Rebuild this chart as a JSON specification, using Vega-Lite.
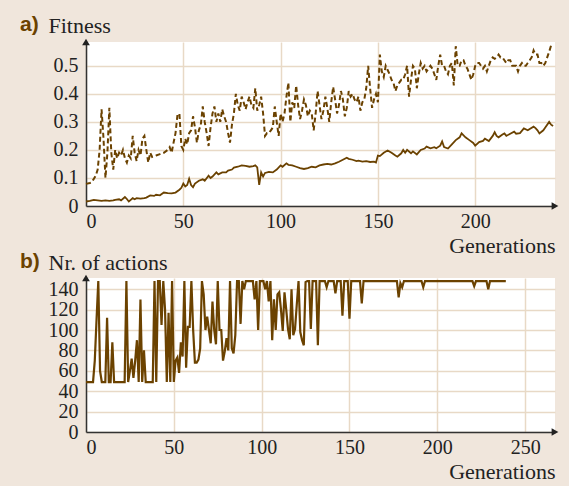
{
  "$schema": "https://vega.github.io/schema/vega-lite/v6.json",
  "background": "#f0e6dc",
  "padding": {"left": 20, "top": 14, "right": 10, "bottom": 4},
  "spacing": 72,
  "bounds": "flush",
  "datasets": {
    "best": [
      {"g":0,"v":0.079},{"g":2,"v":0.082},{"g":3,"v":0.085},{"g":5,"v":0.108},{"g":6,"v":0.13},{"g":7,"v":0.2},{"g":8,"v":0.345},{"g":9,"v":0.24},{"g":10,"v":0.1},{"g":11,"v":0.19},{"g":12,"v":0.35},{"g":13,"v":0.19},{"g":14,"v":0.13},{"g":15,"v":0.2},{"g":16,"v":0.17},{"g":17,"v":0.19},{"g":18,"v":0.18},{"g":19,"v":0.2},{"g":20,"v":0.17},{"g":21,"v":0.155},{"g":22,"v":0.18},{"g":23,"v":0.17},{"g":24,"v":0.25},{"g":25,"v":0.19},{"g":26,"v":0.16},{"g":27,"v":0.2},{"g":28,"v":0.18},{"g":29,"v":0.24},{"g":30,"v":0.25},{"g":31,"v":0.2},{"g":32,"v":0.155},{"g":33,"v":0.19},{"g":34,"v":0.175},{"g":36,"v":0.18},{"g":38,"v":0.185},{"g":40,"v":0.19},{"g":42,"v":0.2},{"g":43,"v":0.21},{"g":44,"v":0.19},{"g":45,"v":0.226},{"g":46,"v":0.26},{"g":47,"v":0.325},{"g":48,"v":0.33},{"g":49,"v":0.214},{"g":50,"v":0.2},{"g":51,"v":0.24},{"g":52,"v":0.22},{"g":53,"v":0.26},{"g":54,"v":0.27},{"g":55,"v":0.32},{"g":56,"v":0.28},{"g":57,"v":0.226},{"g":58,"v":0.27},{"g":59,"v":0.29},{"g":60,"v":0.355},{"g":61,"v":0.3},{"g":62,"v":0.26},{"g":63,"v":0.214},{"g":64,"v":0.28},{"g":65,"v":0.33},{"g":66,"v":0.355},{"g":67,"v":0.3},{"g":68,"v":0.33},{"g":69,"v":0.3},{"g":70,"v":0.345},{"g":71,"v":0.32},{"g":72,"v":0.3},{"g":73,"v":0.26},{"g":74,"v":0.226},{"g":75,"v":0.29},{"g":76,"v":0.33},{"g":77,"v":0.4},{"g":78,"v":0.36},{"g":79,"v":0.34},{"g":80,"v":0.39},{"g":81,"v":0.37},{"g":82,"v":0.345},{"g":83,"v":0.37},{"g":84,"v":0.39},{"g":85,"v":0.36},{"g":86,"v":0.35},{"g":87,"v":0.42},{"g":88,"v":0.34},{"g":89,"v":0.36},{"g":90,"v":0.39},{"g":91,"v":0.33},{"g":92,"v":0.25},{"g":93,"v":0.26},{"g":94,"v":0.26},{"g":95,"v":0.27},{"g":96,"v":0.28},{"g":97,"v":0.355},{"g":98,"v":0.3},{"g":99,"v":0.25},{"g":100,"v":0.33},{"g":101,"v":0.3},{"g":102,"v":0.33},{"g":103,"v":0.39},{"g":104,"v":0.44},{"g":105,"v":0.3},{"g":106,"v":0.37},{"g":107,"v":0.35},{"g":108,"v":0.43},{"g":109,"v":0.36},{"g":110,"v":0.31},{"g":111,"v":0.34},{"g":112,"v":0.38},{"g":113,"v":0.36},{"g":114,"v":0.32},{"g":115,"v":0.34},{"g":116,"v":0.33},{"g":117,"v":0.27},{"g":118,"v":0.33},{"g":119,"v":0.41},{"g":120,"v":0.36},{"g":121,"v":0.31},{"g":122,"v":0.34},{"g":123,"v":0.39},{"g":124,"v":0.35},{"g":125,"v":0.3},{"g":126,"v":0.37},{"g":127,"v":0.425},{"g":128,"v":0.38},{"g":129,"v":0.33},{"g":130,"v":0.36},{"g":131,"v":0.41},{"g":132,"v":0.38},{"g":133,"v":0.32},{"g":134,"v":0.35},{"g":135,"v":0.41},{"g":136,"v":0.39},{"g":137,"v":0.4},{"g":138,"v":0.38},{"g":139,"v":0.37},{"g":140,"v":0.39},{"g":141,"v":0.34},{"g":142,"v":0.37},{"g":143,"v":0.38},{"g":144,"v":0.42},{"g":145,"v":0.5},{"g":146,"v":0.42},{"g":147,"v":0.35},{"g":148,"v":0.38},{"g":149,"v":0.4},{"g":150,"v":0.37},{"g":151,"v":0.54},{"g":152,"v":0.48},{"g":153,"v":0.46},{"g":154,"v":0.5},{"g":155,"v":0.485},{"g":156,"v":0.47},{"g":157,"v":0.45},{"g":158,"v":0.44},{"g":159,"v":0.41},{"g":160,"v":0.43},{"g":161,"v":0.44},{"g":162,"v":0.45},{"g":163,"v":0.45},{"g":164,"v":0.47},{"g":165,"v":0.5},{"g":166,"v":0.39},{"g":167,"v":0.45},{"g":168,"v":0.5},{"g":169,"v":0.49},{"g":170,"v":0.42},{"g":171,"v":0.47},{"g":172,"v":0.51},{"g":173,"v":0.49},{"g":174,"v":0.5},{"g":175,"v":0.48},{"g":176,"v":0.49},{"g":177,"v":0.5},{"g":178,"v":0.49},{"g":179,"v":0.47},{"g":180,"v":0.45},{"g":181,"v":0.5},{"g":182,"v":0.54},{"g":183,"v":0.5},{"g":184,"v":0.5},{"g":185,"v":0.48},{"g":186,"v":0.47},{"g":187,"v":0.5},{"g":188,"v":0.51},{"g":189,"v":0.43},{"g":190,"v":0.57},{"g":191,"v":0.5},{"g":192,"v":0.5},{"g":193,"v":0.52},{"g":194,"v":0.52},{"g":195,"v":0.5},{"g":196,"v":0.49},{"g":197,"v":0.47},{"g":198,"v":0.45},{"g":199,"v":0.47},{"g":200,"v":0.5},{"g":201,"v":0.51},{"g":202,"v":0.51},{"g":203,"v":0.5},{"g":204,"v":0.49},{"g":205,"v":0.5},{"g":206,"v":0.48},{"g":207,"v":0.5},{"g":208,"v":0.52},{"g":209,"v":0.53},{"g":210,"v":0.525},{"g":211,"v":0.53},{"g":212,"v":0.54},{"g":213,"v":0.53},{"g":214,"v":0.53},{"g":215,"v":0.52},{"g":216,"v":0.51},{"g":217,"v":0.52},{"g":218,"v":0.52},{"g":219,"v":0.5},{"g":220,"v":0.5},{"g":221,"v":0.5},{"g":222,"v":0.48},{"g":223,"v":0.5},{"g":224,"v":0.51},{"g":225,"v":0.5},{"g":226,"v":0.5},{"g":227,"v":0.51},{"g":228,"v":0.52},{"g":229,"v":0.53},{"g":230,"v":0.555},{"g":231,"v":0.54},{"g":232,"v":0.54},{"g":233,"v":0.51},{"g":234,"v":0.51},{"g":235,"v":0.5},{"g":236,"v":0.51},{"g":237,"v":0.53},{"g":238,"v":0.55},{"g":239,"v":0.573}
    ],
    "mean": [
      {"g":0,"v":0.016},{"g":2,"v":0.018},{"g":4,"v":0.022},{"g":6,"v":0.02},{"g":8,"v":0.018},{"g":10,"v":0.02},{"g":12,"v":0.018},{"g":14,"v":0.02},{"g":15,"v":0.022},{"g":17,"v":0.024},{"g":18,"v":0.02},{"g":20,"v":0.032},{"g":21,"v":0.025},{"g":22,"v":0.016},{"g":23,"v":0.022},{"g":24,"v":0.028},{"g":25,"v":0.024},{"g":26,"v":0.028},{"g":28,"v":0.026},{"g":30,"v":0.028},{"g":31,"v":0.03},{"g":33,"v":0.038},{"g":35,"v":0.036},{"g":36,"v":0.04},{"g":38,"v":0.038},{"g":40,"v":0.048},{"g":42,"v":0.046},{"g":44,"v":0.045},{"g":46,"v":0.048},{"g":48,"v":0.058},{"g":49,"v":0.065},{"g":50,"v":0.08},{"g":51,"v":0.07},{"g":52,"v":0.075},{"g":53,"v":0.097},{"g":54,"v":0.075},{"g":55,"v":0.067},{"g":56,"v":0.08},{"g":58,"v":0.09},{"g":60,"v":0.095},{"g":61,"v":0.09},{"g":63,"v":0.108},{"g":64,"v":0.1},{"g":65,"v":0.105},{"g":67,"v":0.12},{"g":68,"v":0.113},{"g":70,"v":0.12},{"g":72,"v":0.12},{"g":73,"v":0.126},{"g":75,"v":0.13},{"g":76,"v":0.137},{"g":78,"v":0.14},{"g":80,"v":0.145},{"g":82,"v":0.143},{"g":84,"v":0.14},{"g":86,"v":0.142},{"g":87,"v":0.145},{"g":88,"v":0.138},{"g":89,"v":0.075},{"g":90,"v":0.12},{"g":91,"v":0.105},{"g":92,"v":0.118},{"g":94,"v":0.122},{"g":96,"v":0.12},{"g":98,"v":0.13},{"g":100,"v":0.145},{"g":101,"v":0.14},{"g":103,"v":0.152},{"g":104,"v":0.147},{"g":106,"v":0.145},{"g":108,"v":0.14},{"g":110,"v":0.135},{"g":112,"v":0.132},{"g":114,"v":0.135},{"g":116,"v":0.14},{"g":118,"v":0.138},{"g":120,"v":0.145},{"g":122,"v":0.148},{"g":124,"v":0.15},{"g":126,"v":0.148},{"g":128,"v":0.152},{"g":130,"v":0.158},{"g":132,"v":0.165},{"g":134,"v":0.172},{"g":135,"v":0.168},{"g":137,"v":0.165},{"g":139,"v":0.16},{"g":140,"v":0.162},{"g":142,"v":0.158},{"g":144,"v":0.16},{"g":146,"v":0.157},{"g":148,"v":0.158},{"g":149,"v":0.155},{"g":150,"v":0.18},{"g":151,"v":0.178},{"g":153,"v":0.19},{"g":155,"v":0.198},{"g":157,"v":0.19},{"g":159,"v":0.18},{"g":160,"v":0.176},{"g":162,"v":0.188},{"g":163,"v":0.2},{"g":164,"v":0.19},{"g":165,"v":0.2},{"g":167,"v":0.188},{"g":168,"v":0.195},{"g":170,"v":0.184},{"g":172,"v":0.2},{"g":174,"v":0.205},{"g":175,"v":0.212},{"g":177,"v":0.206},{"g":179,"v":0.21},{"g":180,"v":0.206},{"g":182,"v":0.215},{"g":183,"v":0.23},{"g":184,"v":0.21},{"g":186,"v":0.205},{"g":188,"v":0.22},{"g":190,"v":0.235},{"g":192,"v":0.245},{"g":193,"v":0.259},{"g":195,"v":0.245},{"g":197,"v":0.235},{"g":199,"v":0.225},{"g":200,"v":0.215},{"g":202,"v":0.228},{"g":204,"v":0.232},{"g":205,"v":0.24},{"g":207,"v":0.232},{"g":209,"v":0.25},{"g":210,"v":0.263},{"g":211,"v":0.25},{"g":212,"v":0.245},{"g":214,"v":0.255},{"g":215,"v":0.259},{"g":216,"v":0.25},{"g":218,"v":0.258},{"g":220,"v":0.265},{"g":221,"v":0.258},{"g":223,"v":0.26},{"g":225,"v":0.277},{"g":227,"v":0.27},{"g":228,"v":0.275},{"g":230,"v":0.283},{"g":231,"v":0.278},{"g":232,"v":0.27},{"g":233,"v":0.259},{"g":235,"v":0.27},{"g":236,"v":0.28},{"g":238,"v":0.3},{"g":239,"v":0.29},{"g":240,"v":0.285}
    ],
    "actions": [
      {"g":0,"n":49},{"g":1,"n":49},{"g":2,"n":49},{"g":3,"n":49},{"g":4,"n":49},{"g":5,"n":70},{"g":6,"n":110},{"g":7,"n":148},{"g":8,"n":60},{"g":9,"n":49},{"g":10,"n":49},{"g":11,"n":49},{"g":12,"n":112},{"g":13,"n":49},{"g":14,"n":49},{"g":15,"n":88},{"g":16,"n":49},{"g":17,"n":49},{"g":18,"n":49},{"g":19,"n":49},{"g":20,"n":49},{"g":21,"n":49},{"g":22,"n":49},{"g":23,"n":148},{"g":24,"n":49},{"g":25,"n":60},{"g":26,"n":72},{"g":27,"n":53},{"g":28,"n":70},{"g":29,"n":90},{"g":30,"n":49},{"g":31,"n":130},{"g":32,"n":49},{"g":33,"n":80},{"g":34,"n":49},{"g":35,"n":49},{"g":36,"n":49},{"g":37,"n":49},{"g":38,"n":49},{"g":39,"n":148},{"g":40,"n":49},{"g":41,"n":148},{"g":42,"n":148},{"g":43,"n":105},{"g":44,"n":148},{"g":45,"n":120},{"g":46,"n":49},{"g":47,"n":117},{"g":48,"n":49},{"g":49,"n":148},{"g":50,"n":49},{"g":51,"n":70},{"g":52,"n":73},{"g":53,"n":58},{"g":54,"n":88},{"g":55,"n":74},{"g":56,"n":148},{"g":57,"n":63},{"g":58,"n":103},{"g":59,"n":103},{"g":60,"n":148},{"g":61,"n":100},{"g":62,"n":68},{"g":63,"n":68},{"g":64,"n":71},{"g":65,"n":82},{"g":66,"n":148},{"g":67,"n":135},{"g":68,"n":100},{"g":69,"n":113},{"g":70,"n":100},{"g":71,"n":87},{"g":72,"n":128},{"g":73,"n":100},{"g":74,"n":86},{"g":75,"n":148},{"g":76,"n":100},{"g":77,"n":100},{"g":78,"n":70},{"g":79,"n":79},{"g":80,"n":92},{"g":81,"n":80},{"g":82,"n":148},{"g":83,"n":82},{"g":84,"n":77},{"g":85,"n":95},{"g":86,"n":148},{"g":87,"n":148},{"g":88,"n":106},{"g":89,"n":148},{"g":90,"n":140},{"g":91,"n":148},{"g":92,"n":148},{"g":93,"n":148},{"g":94,"n":148},{"g":95,"n":148},{"g":96,"n":130},{"g":97,"n":148},{"g":98,"n":100},{"g":99,"n":148},{"g":100,"n":148},{"g":101,"n":148},{"g":102,"n":140},{"g":103,"n":148},{"g":104,"n":128},{"g":105,"n":148},{"g":106,"n":90},{"g":107,"n":130},{"g":108,"n":100},{"g":109,"n":135},{"g":110,"n":137},{"g":111,"n":120},{"g":112,"n":99},{"g":113,"n":137},{"g":114,"n":120},{"g":115,"n":101},{"g":116,"n":91},{"g":117,"n":140},{"g":118,"n":95},{"g":119,"n":101},{"g":120,"n":125},{"g":121,"n":148},{"g":122,"n":98},{"g":123,"n":90},{"g":124,"n":85},{"g":125,"n":147},{"g":126,"n":148},{"g":127,"n":148},{"g":128,"n":101},{"g":129,"n":148},{"g":130,"n":148},{"g":131,"n":148},{"g":132,"n":85},{"g":133,"n":148},{"g":136,"n":148},{"g":137,"n":142},{"g":138,"n":148},{"g":141,"n":148},{"g":142,"n":136},{"g":143,"n":148},{"g":145,"n":148},{"g":146,"n":114},{"g":147,"n":148},{"g":149,"n":148},{"g":150,"n":111},{"g":151,"n":148},{"g":156,"n":148},{"g":157,"n":126},{"g":158,"n":148},{"g":177,"n":148},{"g":178,"n":132},{"g":179,"n":146},{"g":180,"n":142},{"g":181,"n":148},{"g":191,"n":148},{"g":192,"n":142},{"g":193,"n":148},{"g":220,"n":148},{"g":221,"n":143},{"g":222,"n":148},{"g":228,"n":148},{"g":229,"n":140},{"g":230,"n":148},{"g":239,"n":148}
    ]
  },
  "config": {
    "view": {"fill": "white", "stroke": null},
    "font": "Liberation Serif",
    "axis": {
      "labelFont": "Liberation Serif", "labelFontSize": 20, "labelColor": "#222", "labelOverlap": false,
      "titleFont": "Liberation Serif", "titleFontSize": 22, "titleFontWeight": "normal", "titleColor": "#222",
      "domainColor": "#333", "domainWidth": 1.5,
      "ticks": false, "gridColor": "#e8d9c6", "gridWidth": 1.5, "gridOpacity": 1
    },
    "title": {"font": "Liberation Sans", "fontSize": 21, "fontWeight": "bold", "color": "#6b4200", "anchor": "start", "frame": "group"}
  },
  "vconcat": [
    {
      "width": 469, "height": 164,
      "title": {"text": "a)", "dx": -66, "dy": 38, "offset": 0, "baseline": "alphabetic"},
      "layer": [
        {
          "data": {"name": "best"},
          "mark": {"type": "line", "color": "#6b4200", "strokeWidth": 2, "strokeDash": [5, 3]},
          "encoding": {
            "x": {"field": "g", "type": "quantitative", "scale": {"domain": [0, 241], "nice": false},
                  "axis": {"values": [0, 50, 100, 150, 200], "title": "Generations", "titleAnchor": "end", "titleAlign": "right", "labelPadding": 5, "titlePadding": 4}},
            "y": {"field": "v", "type": "quantitative", "scale": {"domain": [0, 0.585], "nice": false},
                  "axis": {"values": [0, 0.1, 0.2, 0.3, 0.4, 0.5], "format": ".1~f", "title": "Fitness", "titleAngle": 0, "titleAlign": "left", "titleBaseline": "alphabetic", "titleX": -38, "titleY": -10, "labelPadding": 8}}
          }
        },
        {
          "data": {"name": "mean"},
          "mark": {"type": "line", "color": "#6b4200", "strokeWidth": 1.8},
          "encoding": {
            "x": {"field": "g", "type": "quantitative", "scale": {"domain": [0, 241], "nice": false},
                  "axis": {"values": [0, 50, 100, 150, 200], "title": "Generations", "titleAnchor": "end", "titleAlign": "right", "labelPadding": 5, "titlePadding": 4}},
            "y": {"field": "v", "type": "quantitative", "scale": {"domain": [0, 0.585], "nice": false},
                  "axis": {"values": [0, 0.1, 0.2, 0.3, 0.4, 0.5], "format": ".1~f", "title": "Fitness", "titleAngle": 0, "titleAlign": "left", "titleBaseline": "alphabetic", "titleX": -38, "titleY": -10, "labelPadding": 8}}
          }
        },
        {
          "data": {"values": [{}]},
          "mark": {"type": "point", "shape": "triangle-up", "filled": true, "color": "#222", "size": 60, "opacity": 1, "clip": false},
          "encoding": {
            "x": {"datum": 0, "type": "quantitative", "scale": {"domain": [0, 241], "nice": false},
                  "axis": {"values": [0, 50, 100, 150, 200], "title": "Generations", "titleAnchor": "end", "titleAlign": "right", "labelPadding": 5, "titlePadding": 4}},
            "y": {"datum": 0.585, "type": "quantitative", "scale": {"domain": [0, 0.585], "nice": false},
                  "axis": {"values": [0, 0.1, 0.2, 0.3, 0.4, 0.5], "format": ".1~f", "title": "Fitness", "titleAngle": 0, "titleAlign": "left", "titleBaseline": "alphabetic", "titleX": -38, "titleY": -10, "labelPadding": 8}}
          }
        },
        {
          "data": {"values": [{}]},
          "mark": {"type": "point", "shape": "triangle-right", "filled": true, "color": "#222", "size": 60, "opacity": 1, "clip": false},
          "encoding": {
            "x": {"datum": 241, "type": "quantitative", "scale": {"domain": [0, 241], "nice": false},
                  "axis": {"values": [0, 50, 100, 150, 200], "title": "Generations", "titleAnchor": "end", "titleAlign": "right", "labelPadding": 5, "titlePadding": 4}},
            "y": {"datum": 0, "type": "quantitative", "scale": {"domain": [0, 0.585], "nice": false},
                  "axis": {"values": [0, 0.1, 0.2, 0.3, 0.4, 0.5], "format": ".1~f", "title": "Fitness", "titleAngle": 0, "titleAlign": "left", "titleBaseline": "alphabetic", "titleX": -38, "titleY": -10, "labelPadding": 8}}
          }
        }
      ]
    },
    {
      "width": 469, "height": 154,
      "title": {"text": "b)", "dx": -66, "dy": 38, "offset": 0, "baseline": "alphabetic"},
      "layer": [
        {
          "data": {"name": "actions"},
          "mark": {"type": "line", "color": "#6b4200", "strokeWidth": 2.2},
          "encoding": {
            "x": {"field": "g", "type": "quantitative", "scale": {"domain": [0, 267], "nice": false},
                  "axis": {"values": [0, 50, 100, 150, 200, 250], "title": "Generations", "titleAnchor": "end", "titleAlign": "right", "labelPadding": 5, "titlePadding": 4}},
            "y": {"field": "n", "type": "quantitative", "scale": {"domain": [0, 151], "nice": false},
                  "axis": {"values": [0, 20, 40, 60, 80, 100, 120, 140], "title": "Nr. of actions", "titleAngle": 0, "titleAlign": "left", "titleBaseline": "alphabetic", "titleX": -38, "titleY": -9, "labelPadding": 8}}
          }
        },
        {
          "data": {"values": [{}]},
          "mark": {"type": "point", "shape": "triangle-up", "filled": true, "color": "#222", "size": 60, "opacity": 1, "clip": false},
          "encoding": {
            "x": {"datum": 0, "type": "quantitative", "scale": {"domain": [0, 267], "nice": false},
                  "axis": {"values": [0, 50, 100, 150, 200, 250], "title": "Generations", "titleAnchor": "end", "titleAlign": "right", "labelPadding": 5, "titlePadding": 4}},
            "y": {"datum": 151, "type": "quantitative", "scale": {"domain": [0, 151], "nice": false},
                  "axis": {"values": [0, 20, 40, 60, 80, 100, 120, 140], "title": "Nr. of actions", "titleAngle": 0, "titleAlign": "left", "titleBaseline": "alphabetic", "titleX": -38, "titleY": -9, "labelPadding": 8}}
          }
        },
        {
          "data": {"values": [{}]},
          "mark": {"type": "point", "shape": "triangle-right", "filled": true, "color": "#222", "size": 60, "opacity": 1, "clip": false},
          "encoding": {
            "x": {"datum": 267, "type": "quantitative", "scale": {"domain": [0, 267], "nice": false},
                  "axis": {"values": [0, 50, 100, 150, 200, 250], "title": "Generations", "titleAnchor": "end", "titleAlign": "right", "labelPadding": 5, "titlePadding": 4}},
            "y": {"datum": 0, "type": "quantitative", "scale": {"domain": [0, 151], "nice": false},
                  "axis": {"values": [0, 20, 40, 60, 80, 100, 120, 140], "title": "Nr. of actions", "titleAngle": 0, "titleAlign": "left", "titleBaseline": "alphabetic", "titleX": -38, "titleY": -9, "labelPadding": 8}}
          }
        }
      ]
    }
  ]
}
